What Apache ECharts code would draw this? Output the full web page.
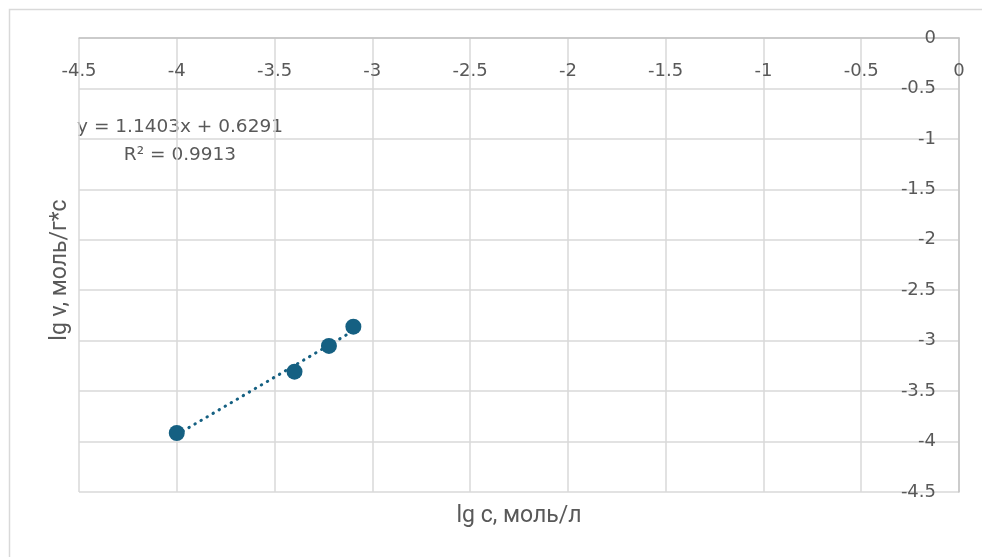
<!DOCTYPE html>
<html>
<head>
<meta charset="utf-8">
<script src="https://cdn.jsdelivr.net/npm/echarts@6/dist/echarts.min.js"></script>
<style>
  html, body { margin: 0; padding: 0; background: #ffffff; }
  #chart { width: 982px; height: 557px; }
</style>
</head>
<body>
<div id="chart"></div>
<script>
// Measured points: lg of concentration vs lg of rate
const lgC = [-4, -3.398, -3.222, -3.097];
const lgV = [-3.915, -3.307, -3.052, -2.861];

// Linear trendline as reported
const slope = 1.1403;
const intercept = 0.6291;
const rSquared = '0.9913';

const xAxisTitle = 'lg c, моль/л';
const yAxisTitle = 'lg v, моль/г*с';

const TEXT = '#595959';
const MARK = '#156082';
const GRID = '#d9d9d9';

const points = lgC.map((x, i) => [x, lgV[i]]);
const xFirst = Math.min(...lgC);
const xLast = Math.max(...lgC);
const trend = [[xFirst, slope * xFirst + intercept], [xLast, slope * xLast + intercept]];

const chart = echarts.init(document.getElementById('chart'), null, { renderer: 'canvas' });

chart.setOption({
  animation: false,
  backgroundColor: '#ffffff',
  grid: { left: 79, right: 23, top: 38, bottom: 65 },
  xAxis: {
    type: 'value',
    position: 'top',
    min: -4.5, max: 0, interval: 0.5,
    axisLine: { show: true, onZero: false, lineStyle: { color: '#c4c4c4', width: 1.5 } },
    axisTick: { show: false },
    splitLine: { show: true, lineStyle: { color: GRID, width: 1.5 } },
    axisLabel: {
      inside: true, margin: 24,
      color: TEXT, fontFamily: 'DejaVu Sans', fontSize: 18,
      showMinLabel: true, showMaxLabel: true
    }
  },
  yAxis: {
    type: 'value',
    position: 'right',
    min: -4.5, max: 0, interval: 0.5,
    axisLine: { show: true, onZero: false, lineStyle: { color: '#c4c4c4', width: 1.5 } },
    axisTick: { show: false },
    splitLine: { show: true, lineStyle: { color: GRID, width: 1.5 } },
    axisLabel: {
      inside: true, margin: 23,
      color: TEXT, fontFamily: 'DejaVu Sans', fontSize: 18,
      showMinLabel: true, showMaxLabel: true
    }
  },
  series: [
    {
      type: 'line',
      data: trend,
      symbol: 'none',
      silent: true,
      z: 2,
      lineStyle: { color: MARK, width: 3, type: [0.5, 6.5], cap: 'round' }
    },
    {
      type: 'scatter',
      data: points,
      symbol: 'circle',
      symbolSize: 16,
      z: 3,
      itemStyle: { color: MARK, opacity: 1 }
    }
  ],
  graphic: [
    {
      type: 'rect',
      silent: true,
      z: -10,
      shape: { x: 9.5, y: 9.5, width: 1000, height: 700 },
      style: { fill: 'none', stroke: GRID, lineWidth: 1.5 }
    },
    {
      type: 'text',
      silent: true,
      x: 180, y: 127,
      style: {
        text: 'y = ' + slope.toFixed(4) + 'x + ' + intercept.toFixed(4),
        fill: TEXT, font: '18.5px "DejaVu Sans"',
        align: 'center', verticalAlign: 'middle'
      }
    },
    {
      type: 'text',
      silent: true,
      x: 180, y: 155,
      style: {
        text: 'R² = ' + rSquared,
        fill: TEXT, font: '18.5px "DejaVu Sans"',
        align: 'center', verticalAlign: 'middle'
      }
    },
    {
      type: 'text',
      silent: true,
      x: 519, y: 516,
      style: {
        text: xAxisTitle,
        fill: TEXT, font: '23px Roboto',
        align: 'center', verticalAlign: 'middle'
      }
    },
    {
      type: 'text',
      silent: true,
      x: 60, y: 270,
      rotation: Math.PI / 2,
      style: {
        text: yAxisTitle,
        fill: TEXT, font: '23px Roboto',
        align: 'center', verticalAlign: 'middle'
      }
    }
  ]
});
</script>
</body>
</html>
